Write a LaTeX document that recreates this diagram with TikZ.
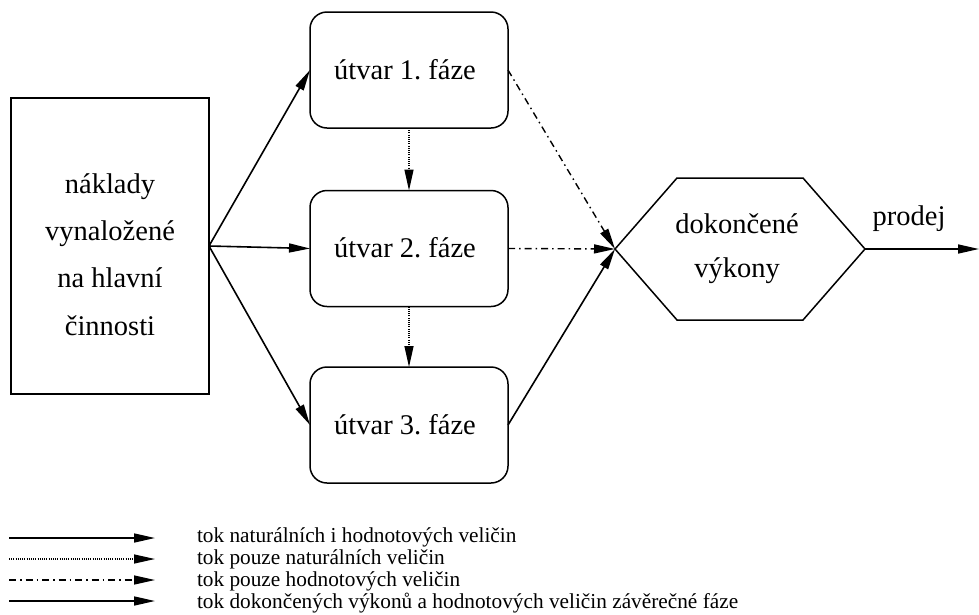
\documentclass[tikz,border=0pt]{standalone}
\usepackage{fontspec}
\setmainfont{Liberation Serif}
\usetikzlibrary{arrows.meta}
\frenchspacing
\begin{document}
\begin{tikzpicture}[x=1pt,y=-1pt,
  every node/.style={inner sep=0pt,outer sep=0pt},
  faze/.style={draw,line width=1.5pt,rounded corners=17pt,minimum width=198pt,minimum height=116pt},
  bigtxt/.style={font=\fontsize{28.5}{30}\selectfont,anchor=base},
  legtxt/.style={font=\fontsize{21.3}{23}\selectfont,anchor=base west},
  tip/.style={-{Triangle[length=21pt,width=9pt]}},
  solidarrow/.style={tip,line width=1.6pt},
  dotarrow/.style={tip,line width=1.3pt,dash pattern=on 1pt off 1.2pt},
  dasharrow/.style={tip,line width=1.4pt,dash pattern=on 7pt off 4pt on 1.5pt off 4pt}]
\useasboundingbox (0,0) rectangle (979,614);
% left box
\node[draw,line width=1.2pt,minimum width=198pt,minimum height=296pt] (left) at (110,246) {};
\node[bigtxt] (l1) at (110,193) {náklady};
\node[bigtxt] (l2) at (110,240) {vynaložené};
\node[bigtxt] (l3) at (110,287) {na hlavní};
\node[bigtxt] (l4) at (110,335) {činnosti};
% phase boxes
\node[faze] (b1) at (409,70) {};
\node[faze] (b2) at (409,248.5) {};
\node[faze] (b3) at (409,425) {};
\node[bigtxt] (t1) at (405,79) {útvar 1. fáze};
\node[bigtxt] (t2) at (405,257) {útvar 2. fáze};
\node[bigtxt] (t3) at (405,434) {útvar 3. fáze};
% hexagon
\coordinate (hW) at (615,249);
\coordinate (hE) at (865,249);
\draw[line width=1.5pt,line join=miter] (hW) -- (677,178) -- (803,178) -- (hE) -- (803,320) -- (677,320) -- cycle;
\node[bigtxt] (h1) at (737,233) {dokončené};
\node[bigtxt] (h2) at (737,277) {výkony};
\node[bigtxt] (pr) at (909,225) {prodej};
\coordinate (out) at (979,249);
% connectors
\draw[solidarrow] (left.east) -- (b1.west);
\draw[solidarrow] (left.east) -- (b2.west);
\draw[solidarrow] (left.east) -- (b3.west);
\draw[dotarrow] (b1.south) -- (b2.north);
\draw[dotarrow] (b2.south) -- (b3.north);
\draw[dasharrow] (b1.east) -- (hW);
\draw[dasharrow] (b2.east) -- (hW);
\draw[solidarrow] (b3.east) -- (hW);
\draw[solidarrow] (hE) -- (out);
% legend
\coordinate (a1) at (9,538);  \coordinate (e1) at (155,538);
\coordinate (a2) at (9,559);  \coordinate (e2) at (155,559);
\coordinate (a3) at (9,580);  \coordinate (e3) at (155,580);
\coordinate (a4) at (9,601);  \coordinate (e4) at (155,601);
\draw[solidarrow] (a1) -- (e1);
\draw[dotarrow] (a2) -- (e2);
\draw[dasharrow] (a3) -- (e3);
\draw[solidarrow] (a4) -- (e4);
\node[legtxt] (g1) at (197,542) {tok naturálních i hodnotových veličin};
\node[legtxt] (g2) at (197,564) {tok pouze naturálních veličin};
\node[legtxt] (g3) at (197,586) {tok pouze hodnotových veličin};
\node[legtxt] (g4) at (197,608) {tok dokončených výkonů a hodnotových veličin závěrečné fáze};
\end{tikzpicture}
\end{document}
